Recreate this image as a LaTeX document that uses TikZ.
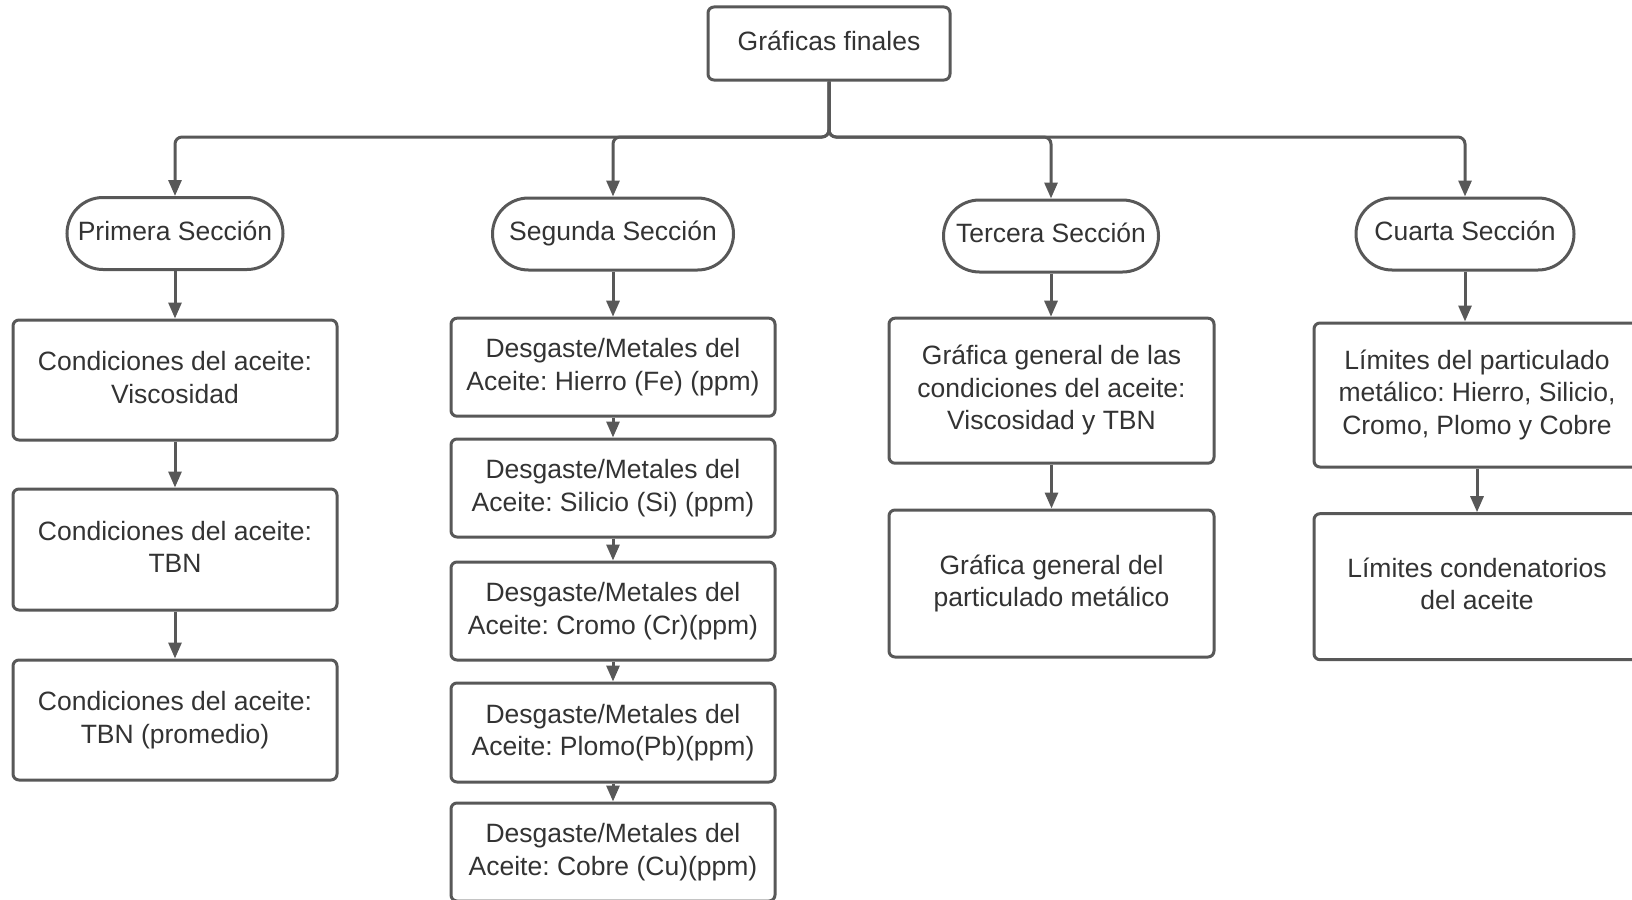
\documentclass[tikz,border=0pt]{standalone}
\usepackage{fontspec}
\usepackage{array}
\setmainfont{Liberation Sans}
\usetikzlibrary{arrows.meta}
\definecolor{linegray}{RGB}{88,88,88}
\definecolor{textgray}{RGB}{51,51,51}
% every text line is a fixed 32.5pt slot (25.5pt above the baseline, 7pt below)
\renewcommand{\arraystretch}{0}
\newcolumntype{L}{@{}>{\rule[-7pt]{0pt}{32.5pt}}c@{}}
\newcommand{\boxlines}[1]{\begin{tabular}[t]{L}#1\end{tabular}}
\tikzset{
  base/.style={draw=linegray, line width=3pt, fill=white, text=textgray,
    inner sep=0pt, text height=23pt,
    font=\fontsize{26.5}{32.5}\selectfont\frenchspacing},
  one/.style={text depth=9.5pt},
  two/.style={text depth=42pt},
  three/.style={text depth=74.5pt},
  box/.style={base, rounded corners=6pt, minimum width=#1},
  box/.default=324pt,
  term/.style={base, one, rounded corners=36pt, minimum height=72pt},
  link/.style={draw=linegray, line width=3pt,
    -{Triangle[length=16pt,width=13pt]}},
  bus/.style={link, rounded corners=7pt}
}
\begin{document}
\begin{tikzpicture}[x=1pt, y=-1pt]
\useasboundingbox (0,0) rectangle (1632,899);
\fill[white] (0,0) rectangle (1632,899);
\clip (0,0) rectangle (1632,899);

% root
\node[box=242pt, one, minimum height=73pt] (root) at (829,43.5) {\boxlines{Gráficas finales}};

% sections
\node[term, minimum width=216pt] (t1) at (175,233.5) {\boxlines{Primera Sección}};
\node[term, minimum width=241pt] (t2) at (613,234) {\boxlines{Segunda Sección}};
\node[term, minimum width=215pt] (t3) at (1051,236) {\boxlines{Tercera Sección}};
\node[term, minimum width=218pt] (t4) at (1465,234) {\boxlines{Cuarta Sección}};

% first section
\node[box, two, minimum height=120pt] (a1) at (175,380) {\boxlines{Condiciones del aceite:\\Viscosidad}};
\node[box, two, minimum height=121pt] (a2) at (175,549.5) {\boxlines{Condiciones del aceite:\\TBN}};
\node[box, two, minimum height=120pt] (a3) at (175,720) {\boxlines{Condiciones del aceite:\\TBN (promedio)}};

% second section
\node[box, two, minimum height=98pt] (b1) at (613,367.2) {\boxlines{Desgaste/Metales del\\Aceite: Hierro (Fe) (ppm)}};
\node[box, two, minimum height=98pt] (b2) at (613,488) {\boxlines{Desgaste/Metales del\\Aceite: Silicio (Si) (ppm)}};
\node[box, two, minimum height=98pt] (b3) at (613,611) {\boxlines{Desgaste/Metales del\\Aceite: Cromo (Cr)(ppm)}};
\node[box, two, minimum height=99pt] (b4) at (613,732.5) {\boxlines{Desgaste/Metales del\\Aceite: Plomo(Pb)(ppm)}};
\node[box, two, minimum height=98pt] (b5) at (613,852) {\boxlines{Desgaste/Metales del\\Aceite: Cobre (Cu)(ppm)}};

% third section
\node[box=325pt, three, minimum height=145pt] (c1) at (1051.5,390.7) {\boxlines{Gráfica general de las\\condiciones del aceite:\\Viscosidad y TBN}};
\node[box=325pt, two, minimum height=147pt] (c2) at (1051.5,583.5) {\boxlines{Gráfica general del\\particulado metálico}};

% fourth section
\node[box=326pt, three, minimum height=144pt] (d1) at (1477,395) {\boxlines{Límites del particulado\\metálico: Hierro, Silicio,\\Cromo, Plomo y Cobre}};
\node[box=326pt, two, minimum height=146pt] (d2) at (1477,586.7) {\boxlines{Límites condenatorios\\del aceite}};

% distribution from the root
\coordinate (split) at (829,137);
\draw[bus] (root.south) -- (split) -| (t1.north);
\draw[bus] (root.south) -- (split) -| (t2.north);
\draw[bus] (root.south) -- (split) -| (t3.north);
\draw[bus] (root.south) -- (split) -| (t4.north);

% column chains
\draw[link] (t1) -- (a1);
\draw[link] (a1) -- (a2);
\draw[link] (a2) -- (a3);

\draw[link] (t2) -- (b1);
\draw[link] (b1) -- (b2);
\draw[link] (b2) -- (b3);
\draw[link] (b3) -- (b4);
\draw[link] (b4) -- (b5);

\draw[link] (t3.south) -- (t3.south |- c1.north);
\draw[link] (c1) -- (c2);

\draw[link] (t4.south) -- (t4.south |- d1.north);
\draw[link] (d1) -- (d2);
\end{tikzpicture}
\end{document}
